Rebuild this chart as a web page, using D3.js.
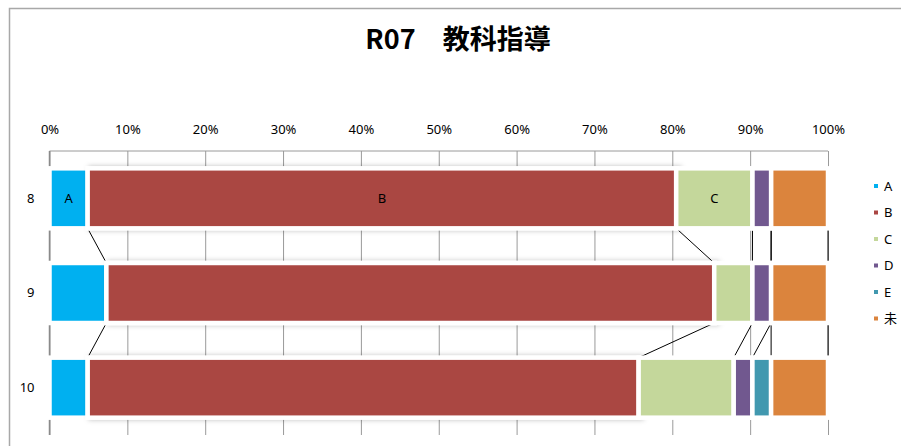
<!DOCTYPE html>
<html>
<head>
<meta charset="utf-8">
<script src="https://cdn.jsdelivr.net/npm/d3@7/dist/d3.min.js"></script>
<style>
  body { margin: 0; background: #fff; }
  text { font-family: "Noto Sans", "Noto Sans CJK JP", sans-serif; }
</style>
</head>
<body>
<div id="chart"></div>
<script>
// categories (grades) and series values in percent
const categories = ["8", "9", "10"];
const seriesNames = ["A", "B", "C", "D", "E", "未"];
const valA = [4.9, 7.3, 4.9];
const valB = [75.6, 78.0, 70.7];
const valC = [9.8, 4.9, 12.2];
const valD = [2.4, 2.4, 2.4];
const valE = [0, 0, 2.4];
const valMi = [7.3, 7.3, 7.3];
const colors = ["#00B0F0", "#AA4643", "#C4D79B", "#71588F", "#4198AF", "#DB843D"];
const tickValues = [0, 0.1, 0.2, 0.3, 0.4, 0.5, 0.6, 0.7, 0.8, 0.9, 1];
const titleText = "R07\u3000教科指導";

const allVals = [valA, valB, valC, valD, valE, valMi];
const rows = categories.map(function(c, i) {
    const r = { cat: c };
    seriesNames.forEach(function(s, j) { r[s] = allVals[j][i]; });
    return r;
});

const W = 901, H = 446;
const plot = { left: 49.5, right: 828, top: 151, bottom: 435 };

const svg = d3.select("#chart").append("svg")
    .attr("width", W)
    .attr("height", H);

// soft shadow used on the long series
const defs = svg.append("defs");
const f = defs.append("filter").attr("id", "shadow")
    .attr("x", "-5%").attr("y", "-30%").attr("width", "110%").attr("height", "160%");
f.append("feDropShadow")
    .attr("dx", 3).attr("dy", 0)
    .attr("stdDeviation", 2.5)
    .attr("flood-color", "#000")
    .attr("flood-opacity", 0.25);

// chart area border
svg.append("rect")
    .attr("x", 9.5).attr("y", 8.5)
    .attr("width", 1000).attr("height", 1000)
    .attr("fill", "none")
    .attr("stroke", "#a8a8a8")
    .attr("stroke-width", 1.5);

// title
svg.append("text")
    .attr("x", 458)
    .attr("y", 49)
    .attr("text-anchor", "middle")
    .style("font-family", "'Noto Sans CJK JP', sans-serif")
    .style("font-weight", "bold")
    .style("font-size", "27px")
    .text(titleText);

const x = d3.scaleLinear().domain([0, 1]).range([plot.left, plot.right]);
const y = d3.scaleBand()
    .domain(categories)
    .range([plot.top, plot.bottom])
    .paddingInner(0.366)
    .paddingOuter(0.183);

// gridlines
svg.append("g")
    .attr("class", "grid")
    .attr("transform", "translate(0," + plot.top + ")")
    .call(d3.axisBottom(x).tickValues(tickValues).tickSize(plot.bottom - plot.top).tickFormat(""))
    .call(function(g) {
        g.select(".domain").remove();
        g.selectAll(".tick line").attr("stroke", "#9a9a9a").attr("stroke-width", 1);
    });

// top frame line and left axis
svg.append("line")
    .attr("x1", plot.left).attr("x2", plot.right)
    .attr("y1", plot.top).attr("y2", plot.top)
    .attr("stroke", "#9a9a9a");
svg.append("line")
    .attr("x1", plot.left).attr("x2", plot.left)
    .attr("y1", plot.top).attr("y2", plot.bottom)
    .attr("stroke", "#8a8a8a")
    .attr("stroke-width", 1.5);

// percentage labels on top
svg.append("g")
    .attr("transform", "translate(0," + plot.top + ")")
    .call(d3.axisTop(x).tickValues(tickValues).tickSize(0).tickPadding(17).tickFormat(d3.format(".0%")))
    .call(function(g) {
        g.select(".domain").remove();
        g.selectAll("text").style("font-size", "13px").attr("fill", "#000");
    });

// category labels
svg.append("g")
    .attr("transform", "translate(" + (plot.left - 15) + ",0)")
    .call(d3.axisLeft(y).tickSize(0).tickPadding(0))
    .call(function(g) {
        g.select(".domain").remove();
        g.selectAll("text").style("font-size", "13px").attr("fill", "#000");
    });

const stack = d3.stack().keys(seriesNames).offset(d3.stackOffsetExpand);
const stacked = stack(rows);

// series lines between bars
const links = [];
stacked.forEach(function(layer) {
    for (let i = 0; i < categories.length - 1; i++) {
        links.push({
            x1: x(layer[i][1]), y1: y(categories[i]) + y.bandwidth(),
            x2: x(layer[i + 1][1]), y2: y(categories[i + 1])
        });
    }
});
svg.append("g").selectAll("line")
    .data(links)
    .enter().append("line")
    .attr("x1", function(d) { return d.x1; })
    .attr("y1", function(d) { return d.y1; })
    .attr("x2", function(d) { return d.x2; })
    .attr("y2", function(d) { return d.y2; })
    .attr("stroke", "#000")
    .attr("stroke-width", 1);

// bars
const layers = svg.append("g").selectAll("g")
    .data(stacked)
    .enter().append("g")
    .attr("fill", function(d, i) { return colors[i]; })
    .attr("filter", function(d) { return d.key === "B" ? "url(#shadow)" : null; });

layers.selectAll("rect")
    .data(function(d) { return d.filter(function(p) { return p[1] - p[0] > 0; }); })
    .enter().append("rect")
    .attr("x", function(d) { return x(d[0]); })
    .attr("y", function(d) { return y(d.data.cat); })
    .attr("width", function(d) { return x(d[1]) - x(d[0]); })
    .attr("height", y.bandwidth())
    .attr("stroke", "#fff")
    .attr("stroke-width", 4.5);

// series name labels on the first bar
const labelled = ["A", "B", "C"];
stacked.filter(function(l) { return labelled.indexOf(l.key) >= 0; }).forEach(function(layer) {
    const p = layer[0];
    svg.append("text")
        .attr("x", x((p[0] + p[1]) / 2))
        .attr("y", y(categories[0]) + y.bandwidth() / 2)
        .attr("dy", "0.35em")
        .attr("text-anchor", "middle")
        .style("font-size", "13px")
        .text(layer.key);
});

// legend
const legend = svg.append("g").selectAll("g")
    .data(seriesNames)
    .enter().append("g")
    .attr("transform", function(d, i) { return "translate(874," + (186 + i * 26.5) + ")"; });
legend.append("rect")
    .attr("x", 0).attr("y", -2)
    .attr("width", 4).attr("height", 4)
    .attr("fill", function(d, i) { return colors[i]; });
legend.append("text")
    .attr("x", 10)
    .attr("dy", "0.35em")
    .style("font-size", "13px")
    .text(function(d) { return d; });
</script>
</body>
</html>
